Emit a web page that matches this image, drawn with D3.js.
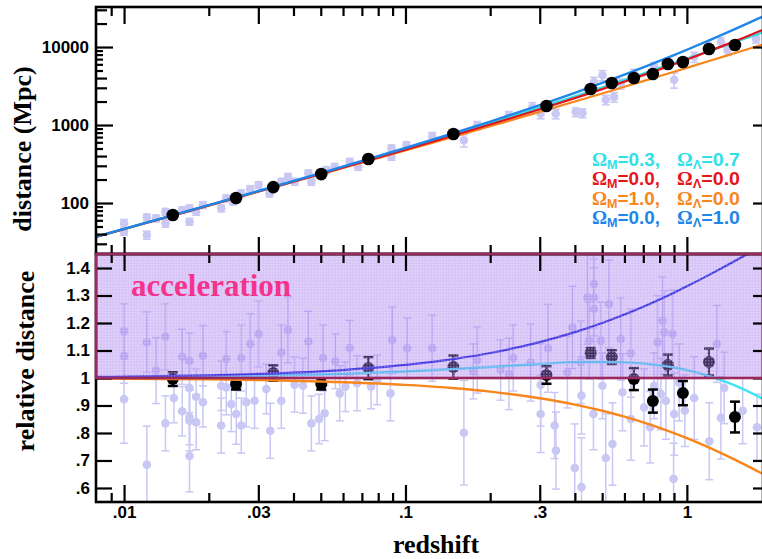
<!DOCTYPE html>
<meta charset="utf-8">
<script src="https://d3js.org/d3.v7.min.js"></script>
<body style="margin:0;background:#fff">
<div id="chart"></div>
<script>

// model curves, sampled at these redshifts
var modelZ = [0.008, 0.01, 0.02, 0.03, 0.05, 0.1, 0.15, 0.2, 0.3, 0.4, 0.5, 0.6, 0.7, 0.8, 0.9, 1.0, 1.2, 1.4, 1.6, 1.85];

// distance (Mpc), top panel
var distCyan   = [37.12, 46.48, 93.66, 141.6, 239.4, 495.7, 768.0, 1055, 1672, 2341, 3051, 3801, 4587, 5403, 6247, 7115, 8915, 10788, 12721, 15210];
var distRed    = [37.04, 46.35, 93.16, 140.4, 236.4, 484.3, 743.7, 1015, 1591, 2214, 2883, 3597, 4358, 5165, 6019, 6918, 8855, 10977, 13283, 16425];
var distOrange = [36.97, 46.23, 92.70, 139.4, 233.4, 472.2, 716.0, 964.4, 1474, 2000, 2539, 3091, 3654, 4228, 4811, 5404, 6611, 7849, 9110, 10718];
var distBlue   = [37.19, 46.58, 94.08, 142.5, 242.1, 507.3, 795.6, 1107, 1799, 2583, 3459, 4428, 5488, 6641, 7886, 9224, 12176, 15497, 19186, 24317];

// relative distance, bottom panel
var relCyan   = [1.0022, 1.0027, 1.0054, 1.008, 1.0128, 1.0236, 1.0327, 1.0402, 1.0509, 1.0576, 1.0584, 1.0567, 1.0525, 1.046, 1.038, 1.0285, 1.0068, 0.9828, 0.9577, 0.926];
var relRed    = [1, 1, 1, 1, 1, 1, 1, 1, 1, 1, 1, 1, 1, 1, 1, 1, 1, 1, 1, 1];
var relOrange = [0.998, 0.9975, 0.9951, 0.9925, 0.9875, 0.9751, 0.9627, 0.9505, 0.9264, 0.9033, 0.8808, 0.8592, 0.8384, 0.8185, 0.7994, 0.7811, 0.7466, 0.715, 0.6858, 0.6525];
var relBlue   = [1.004, 1.005, 1.0099, 1.0148, 1.0244, 1.0476, 1.0698, 1.0909, 1.1304, 1.1667, 1.2, 1.2308, 1.2593, 1.2857, 1.3103, 1.3333, 1.375, 1.4118, 1.4444, 1.4805];

// binned supernovae (black dots)
var binZ    = [0.0149, 0.025, 0.0339, 0.0502, 0.0738, 0.148, 0.317, 0.455, 0.541, 0.648, 0.757, 0.856, 0.968, 1.198, 1.482];
var binDist = [70.2, 116, 160, 235, 367, 767, 1752, 2893, 3453, 4005, 4507, 6055, 6422, 9428, 10607];
var binRel  = [0.996, 0.978, 1.018, 0.978, 1.036, 1.04, 1.011, 1.091, 1.076, 0.996, 0.916, 1.047, 0.945, 1.058, 0.858];
var binErr  = [0.025, 0.02, 0.028, 0.02, 0.04, 0.042, 0.032, 0.018, 0.025, 0.04, 0.042, 0.038, 0.044, 0.049, 0.056];

// individual supernovae, bottom panel
var snZ = [
  0.01, 0.01, 0.01, 0.01205, 0.01205, 0.013, 0.01403, 0.01403, 0.01503, 0.01609,
  0.01609, 0.01708, 0.01708, 0.01708, 0.01708, 0.01708, 0.01804, 0.01804, 0.01906, 0.01906,
  0.02214, 0.02214, 0.02307, 0.02307, 0.02404, 0.02504, 0.02609, 0.02609, 0.02718, 0.02808,
  0.02909, 0.03006, 0.03202, 0.03307, 0.0362, 0.0362, 0.03825, 0.04037, 0.04324, 0.04517,
  0.0463, 0.0493, 0.05094, 0.05162, 0.05636, 0.05839, 0.06117, 0.06337, 0.06731, 0.07548,
  0.07929, 0.08844, 0.0897, 0.1014, 0.1245, 0.1613, 0.1741, 0.18, 0.2178, 0.2331,
  0.2416, 0.2786, 0.3022, 0.3022, 0.3209, 0.339, 0.3426, 0.3995, 0.4221, 0.392,
  0.4434, 0.4677, 0.4677, 0.4677, 0.4493, 0.4196, 0.3762, 0.4221, 0.4656, 0.515,
  0.5441, 0.5291, 0.4943, 0.5823, 0.5905, 0.632, 0.633, 0.7047, 0.7402, 0.7866,
  0.8195, 0.8304, 0.8421, 0.8969, 0.9012, 0.8895, 0.9837, 1.062, 1.201, 1.279,
  1.321, 1.357, 1.579, 1.775, 0.5012, 0.8083, 0.9389, 0.765];
var snRel = [
  1.17, 1.081, 0.923, 1.13, 0.685, 1.027, 1.15, 0.835, 0.927, 1.077,
  0.879, 1.063, 0.964, 0.857, 0.845, 0.716, 0.932, 0.839, 1.081, 0.912,
  0.972, 0.827, 1.069, 0.966, 0.905, 0.869, 1.073, 0.827, 0.912, 1.124,
  0.917, 1.16, 0.96, 0.808, 1.093, 0.917, 1.175, 0.976, 0.972, 1.133,
  0.835, 0.851, 1.073, 0.872, 1.061, 0.944, 0.968, 1.109, 0.981, 0.968,
  0.993, 0.944, 1.138, 1.108, 1.108, 0.801, 1.024, 1.065, 1.029, 1.015,
  1.073, 1.056, 0.975, 0.869, 1.108, 0.827, 0.736, 0.673, 0.603, 1.184,
  1.293, 1.342, 1.293, 1.251, 1.136, 1.057, 1.021, 0.936, 0.869, 0.709,
  0.76, 1.269, 1.136, 1.142, 0.948, 1.09, 0.851, 0.893, 0.821, 1.13,
  1.208, 1.166, 0.917, 0.633, 0.869, 1.16, 0.881, 0.927, 0.77, 1.124,
  0.855, 0.964, 0.881, 0.821, 0.972, 0.942, 0.984, 0.972];
var snErr = [
  0.1, 0.1, 0.16, 0.11, 0.14, 0.12, 0.12, 0.1, 0.09, 0.1,
  0.09, 0.1, 0.09, 0.1, 0.11, 0.13, 0.1, 0.1, 0.11, 0.09,
  0.09, 0.1, 0.1, 0.1, 0.1, 0.11, 0.12, 0.1, 0.09, 0.11,
  0.1, 0.12, 0.09, 0.1, 0.1, 0.1, 0.12, 0.1, 0.1, 0.11,
  0.1, 0.09, 0.12, 0.1, 0.1, 0.1, 0.09, 0.1, 0.1, 0.08,
  0.09, 0.1, 0.12, 0.11, 0.12, 0.19, 0.1, 0.12, 0.11, 0.13,
  0.12, 0.14, 0.15, 0.14, 0.16, 0.12, 0.14, 0.16, 0.18, 0.15,
  0.17, 0.16, 0.14, 0.15, 0.14, 0.15, 0.13, 0.14, 0.13, 0.16,
  0.15, 0.16, 0.14, 0.15, 0.14, 0.16, 0.15, 0.14, 0.13, 0.17,
  0.16, 0.15, 0.14, 0.13, 0.15, 0.16, 0.13, 0.15, 0.14, 0.14,
  0.15, 0.13, 0.12, 0.12, 0.12, 0.13, 0.14, 0.12];

// individual supernovae, top panel
var topSnZ = [
  0.01, 0.01, 0.01205, 0.01205, 0.013, 0.01403, 0.01403, 0.01609, 0.01708, 0.01708,
  0.01804, 0.01906, 0.02214, 0.02307, 0.02437, 0.02609, 0.02808, 0.03006, 0.03289, 0.0362,
  0.03825, 0.04037, 0.04517, 0.0463, 0.05234, 0.05603, 0.06337, 0.06787, 0.08918, 0.08918,
  0.1008, 0.1245, 0.1613, 0.18, 0.2331, 0.2825, 0.3022, 0.3418, 0.4027, 0.4255,
  0.4677, 0.5012, 0.515, 0.5512, 0.5823, 0.6494, 0.765, 0.8538, 0.9012, 1.062,
  1.185, 1.321, 1.396, 1.761];
var topSnDist = [
  54.9, 42.9, 65.6, 38.9, 63.7, 77.4, 54.9, 81.3, 57.6, 85.5,
  77.4, 94.3, 85.5, 114.9, 103.9, 133.1, 151.2, 170.1, 133.1, 187.6,
  217.4, 187.6, 240.3, 187.6, 264.9, 292, 338.4, 292, 502.6, 392.3,
  554.1, 716.4, 636.6, 991.2, 1331, 1701, 1396, 1396, 1468, 1425,
  3558, 4337, 2110, 2286, 3384, 4547, 5541, 6107, 3808, 7443,
  10000, 11590, 9070, 12780];
var topSnErr = [
  0.12, 0.1, 0.1, 0.12, 0.1, 0.1, 0.11, 0.1, 0.1, 0.1,
  0.1, 0.1, 0.1, 0.1, 0.09, 0.1, 0.1, 0.1, 0.1, 0.1,
  0.1, 0.1, 0.1, 0.1, 0.1, 0.1, 0.1, 0.1, 0.1, 0.1,
  0.1, 0.12, 0.18, 0.12, 0.12, 0.14, 0.14, 0.14, 0.13, 0.13,
  0.15, 0.15, 0.14, 0.14, 0.15, 0.14, 0.14, 0.14, 0.22, 0.15,
  0.15, 0.14, 0.14, 0.12];

// axis ticks
var xMajor = [0.01, 0.03, 0.1, 0.3, 1];
var xLabels = [".01", ".03", ".1", ".3", "1"];
var xMinor = [0.009, 0.02, 0.04, 0.05, 0.06, 0.07, 0.08, 0.09, 0.2, 0.4, 0.5, 0.6, 0.7, 0.8, 0.9];
var dMajor = [100, 1000, 10000];
var dLabels = ["100", "1000", "10000"];
var dMid = [30, 40, 200, 300, 400, 2000, 3000, 4000, 20000, 30000];
var dMinor = [50, 60, 70, 80, 90, 500, 600, 700, 800, 900, 5000, 6000, 7000, 8000, 9000];
var rTicks = [0.6, 0.7, 0.8, 0.9, 1, 1.1, 1.2, 1.3, 1.4];
var rLabels = [".6", ".7", ".8", ".9", "1", "1.1", "1.2", "1.3", "1.4"];

// legend
var legendM = ["0.3", "0.0", "1.0", "0.0"];
var legendL = ["0.7", "0.0", "0.0", "1.0"];
var legendColors = ["#2fe0e8", "#e8141c", "#f7861c", "#1e86e8"];

// ---------------------------------------------------------------
var W = 762, H = 559;
var pl = 96, pr = 763, pt = 7, pm = 254, pb = 502;

var svg = d3.select("#chart").append("svg")
  .attr("width", W).attr("height", H)
  .style("display", "block");

var defs = svg.append("defs");
defs.append("clipPath").attr("id", "clipTop")
  .append("rect").attr("x", pl).attr("y", pt).attr("width", pr - pl).attr("height", pm - pt);
defs.append("clipPath").attr("id", "clipBot")
  .append("rect").attr("x", pl).attr("y", pm).attr("width", pr - pl).attr("height", pb - pm);
var pat = defs.append("pattern").attr("id", "dots")
  .attr("width", 3).attr("height", 3).attr("patternUnits", "userSpaceOnUse");
pat.append("rect").attr("width", 3).attr("height", 3).attr("fill", "#a074ee").attr("fill-opacity", 0.42);
pat.append("rect").attr("width", 1.5).attr("height", 1.5).attr("fill", "#ffffff").attr("fill-opacity", 0.3);

var x = d3.scaleLog().domain([0.007948, 1.8643]).range([pl, pr]);
var yTop = d3.scaleLog().domain([22.2, 32600]).range([pm, pt]);
var yBot = d3.scaleLinear().domain([0.549, 1.451]).range([pb, pm]);

var light = "#c9c7f3";

// ---------- top panel ----------
var gTop = svg.append("g").attr("clip-path", "url(#clipTop)");

topSnZ.forEach(function(z, i) {
  var d = topSnDist[i], e = topSnErr[i];
  gTop.append("line")
    .attr("x1", x(z)).attr("x2", x(z))
    .attr("y1", yTop(d * (1 - e))).attr("y2", yTop(d * (1 + e)))
    .attr("stroke", light).attr("stroke-width", 1.5);
  [d * (1 - e), d * (1 + e)].forEach(function(v) {
    gTop.append("line")
      .attr("x1", x(z) - 4).attr("x2", x(z) + 4)
      .attr("y1", yTop(v)).attr("y2", yTop(v))
      .attr("stroke", light).attr("stroke-width", 1.5);
  });
});
gTop.selectAll("circle.sn")
  .data(topSnZ)
  .enter().append("circle")
  .attr("cx", function(d) { return x(d); })
  .attr("cy", function(d, i) { return yTop(topSnDist[i]); })
  .attr("r", 4.3)
  .attr("fill", light);

function drawCurve(g, yScale, vals, color, w) {
  var line = d3.line()
    .x(function(d) { return x(d); })
    .y(function(d, i) { return yScale(vals[i]); })
    .curve(d3.curveMonotoneX);
  g.append("path").datum(modelZ)
    .attr("d", line)
    .attr("fill", "none")
    .attr("stroke", color)
    .attr("stroke-width", w);
}

drawCurve(gTop, yTop, distOrange, "#f7861c", 2.2);
drawCurve(gTop, yTop, distCyan, "#2fe0e8", 2.2);
drawCurve(gTop, yTop, distRed, "#e0141c", 2.2);
drawCurve(gTop, yTop, distBlue, "#1e86e8", 2.4);

gTop.selectAll("circle.bin")
  .data(binZ)
  .enter().append("circle")
  .attr("cx", function(d) { return x(d); })
  .attr("cy", function(d, i) { return yTop(binDist[i]); })
  .attr("r", 6.3)
  .attr("fill", "#000");

// ---------- bottom panel ----------
var gBot = svg.append("g").attr("clip-path", "url(#clipBot)");

snZ.forEach(function(z, i) {
  var r = snRel[i], e = snErr[i];
  gBot.append("line")
    .attr("x1", x(z)).attr("x2", x(z))
    .attr("y1", yBot(r - e)).attr("y2", yBot(r + e))
    .attr("stroke", light).attr("stroke-width", 1.5);
  [r - e, r + e].forEach(function(v) {
    gBot.append("line")
      .attr("x1", x(z) - 4).attr("x2", x(z) + 4)
      .attr("y1", yBot(v)).attr("y2", yBot(v))
      .attr("stroke", light).attr("stroke-width", 1.5);
  });
});
gBot.selectAll("circle.sn")
  .data(snZ)
  .enter().append("circle")
  .attr("cx", function(d) { return x(d); })
  .attr("cy", function(d, i) { return yBot(snRel[i]); })
  .attr("r", 4.3)
  .attr("fill", light);

// binned points with error bars
binZ.forEach(function(z, i) {
  var r = binRel[i], e = binErr[i];
  gBot.append("line")
    .attr("x1", x(z)).attr("x2", x(z))
    .attr("y1", yBot(r - e)).attr("y2", yBot(r + e))
    .attr("stroke", "#000").attr("stroke-width", 2.2);
  [r - e, r + e].forEach(function(v) {
    gBot.append("line")
      .attr("x1", x(z) - 5).attr("x2", x(z) + 5)
      .attr("y1", yBot(v)).attr("y2", yBot(v))
      .attr("stroke", "#000").attr("stroke-width", 2.5);
  });
  gBot.append("circle")
    .attr("cx", x(z)).attr("cy", yBot(r))
    .attr("r", 6).attr("fill", "#000");
});

drawCurve(gBot, yBot, relOrange, "#f7861c", 2.4);
drawCurve(gBot, yBot, relCyan, "#3ee4f0", 2.4);
drawCurve(gBot, yBot, relRed, "#e0141c", 2.2);
drawCurve(gBot, yBot, relBlue, "#0a14d8", 2.2);

// shaded "acceleration" region
gBot.append("rect")
  .attr("x", pl).attr("y", yBot(1.451))
  .attr("width", pr - pl).attr("height", yBot(1) - yBot(1.451))
  .attr("fill", "url(#dots)");

// ---------- frames ----------
svg.append("rect")
  .attr("x", pl).attr("y", pt).attr("width", pr - pl).attr("height", pm - pt)
  .attr("fill", "none").attr("stroke", "#000").attr("stroke-width", 2.6);
svg.append("rect")
  .attr("x", pl).attr("y", pm).attr("width", pr - pl).attr("height", pb - pm)
  .attr("fill", "none").attr("stroke", "#000").attr("stroke-width", 2.6);

// ticks
function ticks(axis, values, size, tx, ty) {
  svg.append("g")
    .attr("transform", "translate(" + tx + "," + ty + ")")
    .call(axis.tickValues(values).tickSize(size).tickFormat(""))
    .call(function(g) { g.select(".domain").remove(); })
    .selectAll("line")
    .attr("stroke", "#000")
    .attr("stroke-width", 2.2);
}

// x ticks, all four horizontal borders
ticks(d3.axisBottom(x), xMajor, 17, 0, pt);
ticks(d3.axisBottom(x), xMinor, 9, 0, pt);
ticks(d3.axisTop(x), xMajor, 17, 0, pm);
ticks(d3.axisTop(x), xMinor, 9, 0, pm);
ticks(d3.axisBottom(x), xMajor, 17, 0, pm);
ticks(d3.axisBottom(x), xMinor, 9, 0, pm);
ticks(d3.axisTop(x), xMajor, 17, 0, pb);
ticks(d3.axisTop(x), xMinor, 9, 0, pb);

// y ticks, top panel
ticks(d3.axisRight(yTop), dMajor, 17, pl, 0);
ticks(d3.axisRight(yTop), dMid, 11, pl, 0);
ticks(d3.axisRight(yTop), dMinor, 7, pl, 0);
ticks(d3.axisLeft(yTop), dMajor, 10, pr, 0);

// y ticks, bottom panel
ticks(d3.axisRight(yBot), rTicks, 16, pl, 0);
ticks(d3.axisLeft(yBot), rTicks, 10, pr, 0);

// maroon border of the shaded region
svg.append("rect")
  .attr("x", pl).attr("y", yBot(1.451))
  .attr("width", pr - pl).attr("height", yBot(1) - yBot(1.451))
  .attr("fill", "none")
  .attr("stroke", "#9a2a5e").attr("stroke-width", 2.6);

// tick labels
function labels(axis, values, names, pad, tx, ty) {
  svg.append("g")
    .attr("transform", "translate(" + tx + "," + ty + ")")
    .call(axis.tickValues(values).tickSize(0).tickPadding(pad)
      .tickFormat(function(d, i) { return names[i]; }))
    .call(function(g) { g.select(".domain").remove(); })
    .selectAll("text")
    .attr("fill", "#000")
    .style("font-family", "'Liberation Sans', Arial, sans-serif")
    .style("font-weight", "bold")
    .style("font-size", "17px");
}
labels(d3.axisBottom(x), xMajor, xLabels, 4, 0, pb);
labels(d3.axisLeft(yTop), dMajor, dLabels, 7, pl, 0);
labels(d3.axisLeft(yBot), rTicks, rLabels, 6, pl, 0);

// axis titles
var serif = "'Liberation Serif', 'Times New Roman', serif";
svg.append("text")
  .attr("transform", "translate(31,149) rotate(-90)")
  .attr("text-anchor", "middle")
  .style("font-family", serif).style("font-weight", "bold").style("font-size", "26px")
  .text("distance (Mpc)");
svg.append("text")
  .attr("transform", "translate(34,361) rotate(-90)")
  .attr("text-anchor", "middle")
  .style("font-family", serif).style("font-weight", "bold").style("font-size", "26px")
  .text("relative distance");
svg.append("text")
  .attr("x", 436).attr("y", 553)
  .attr("text-anchor", "middle")
  .style("font-family", serif).style("font-weight", "bold").style("font-size", "26px")
  .text("redshift");
svg.append("text")
  .attr("x", 131).attr("y", 296)
  .style("font-family", serif).style("font-weight", "bold").style("font-size", "31px")
  .attr("fill", "#f5338c")
  .text("acceleration");

// legend
var legBase = [166, 185, 205, 224];
legendM.forEach(function(m, i) {
  var c = legendColors[i];
  var t1 = svg.append("text")
    .attr("x", 592).attr("y", legBase[i])
    .attr("fill", c)
    .attr("textLength", 68).attr("lengthAdjust", "spacingAndGlyphs")
    .style("font-family", "'Liberation Sans', Arial, sans-serif")
    .style("font-weight", "bold").style("font-size", "18px");
  t1.append("tspan").style("font-family", serif).text("\u03A9");
  t1.append("tspan").attr("dy", 3).style("font-size", "12px").text("M");
  t1.append("tspan").attr("dy", -3).text("=" + m + ",");

  var t2 = svg.append("text")
    .attr("x", 677).attr("y", legBase[i])
    .attr("fill", c)
    .attr("textLength", 63).attr("lengthAdjust", "spacingAndGlyphs")
    .style("font-family", "'Liberation Sans', Arial, sans-serif")
    .style("font-weight", "bold").style("font-size", "18px");
  t2.append("tspan").style("font-family", serif).text("\u03A9");
  t2.append("tspan").attr("dy", 3).style("font-size", "12px").text("\u039B");
  t2.append("tspan").attr("dy", -3).text("=" + legendL[i]);
});

</script>
</body>
